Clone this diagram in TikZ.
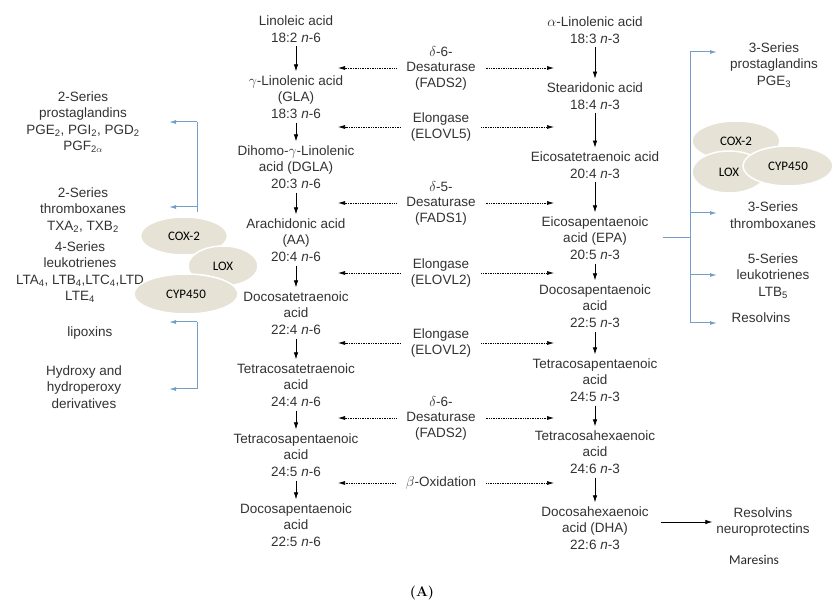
\documentclass[tikz,border=0pt]{standalone}
\usepackage{fontspec}
\setsansfont{Liberation Sans}
\newfontfamily\calib{Carlito}
\usetikzlibrary{positioning,shapes.geometric,arrows.meta}
\definecolor{txtgrey}{RGB}{50,50,50}
\definecolor{pathblue}{RGB}{115,158,200}
\definecolor{enzbeige}{RGB}{230,227,214}

\begin{document}
\begin{tikzpicture}[x=1pt,y=-1pt,on grid,
  acid/.style={align=center,font=\sffamily\fontsize{13.5}{16.5}\selectfont,text=txtgrey,inner sep=2pt},
  enzyme/.style={align=center,font=\sffamily\fontsize{13.5}{15.5}\selectfont,text=txtgrey,inner sep=2pt},
  product/.style={acid},
  blob/.style={ellipse,fill=enzbeige,draw=white,line width=1.5pt,inner sep=0pt,font=\calib\fontsize{13}{15}\selectfont},
  convert/.style={-{Latex[length=7pt,width=4.5pt]},line width=0.7pt,shorten <=2pt,shorten >=2pt},
  dotflow/.style={-{Latex[length=7pt,width=4pt]},densely dotted,line width=0.7pt},
  branch/.style={pathblue,line width=1pt},
  branchtip/.style={branch,-{Latex[length=7pt,width=4pt]}}]

\useasboundingbox (0,0) rectangle (833,601);

% omega-6 series
\node[acid] (la) at (296,29) {Linoleic acid\\18:2 \textit{n}-6};
\node[acid] (gla) [below=68pt of la] {$\gamma$-Linolenic acid\\(GLA)\\18:3 \textit{n}-6};
\node[acid] (dgla) [below=70pt of gla] {Dihomo-$\gamma$-Linolenic\\acid (DGLA)\\20:3 \textit{n}-6};
\node[acid] (aa) [below=73pt of dgla] {Arachidonic acid\\(AA)\\20:4 \textit{n}-6};
\node[acid] (dta) [below=73pt of aa] {Docosatetraenoic\\acid\\22:4 \textit{n}-6};
\node[acid] (tta) [below=72pt of dta] {Tetracosatetraenoic\\acid\\24:4 \textit{n}-6};
\node[acid] (tpa6) [below=70pt of tta] {Tetracosapentaenoic\\acid\\24:5 \textit{n}-6};
\node[acid] (dpa6) [below=70pt of tpa6] {Docosapentaenoic\\acid\\22:5 \textit{n}-6};

% omega-3 series
\node[acid] (ala) at (595,30) {$\alpha$-Linolenic acid\\18:3 \textit{n}-3};
\node[acid] (sda) [below=66pt of ala] {Stearidonic acid\\18:4 \textit{n}-3};
\node[acid] (eta) [below=69pt of sda] {Eicosatetraenoic acid\\20:4 \textit{n}-3};
\node[acid] (epa) [below=73pt of eta] {Eicosapentaenoic\\acid (EPA)\\20:5 \textit{n}-3};
\node[acid] (dpa3) [below=68pt of epa] {Docosapentaenoic\\acid\\22:5 \textit{n}-3};
\node[acid] (tpa3) [below=74pt of dpa3] {Tetracosapentaenoic\\acid\\24:5 \textit{n}-3};
\node[acid] (tha) [below=72pt of tpa3] {Tetracosahexaenoic\\acid\\24:6 \textit{n}-3};
\node[acid] (dha) [below=76pt of tha] {Docosahexaenoic\\acid (DHA)\\22:6 \textit{n}-3};

\foreach \a/\b in {la/gla,gla/dgla,dgla/aa,aa/dta,dta/tta,tta/tpa6,tpa6/dpa6,
                   ala/sda,sda/eta,eta/epa,epa/dpa3,dpa3/tpa3,tpa3/tha,tha/dha}
  \draw[convert] (\a) -- (\b);

% enzymes
\node[enzyme] (fads2a) at (441,68) {$\delta$-6-\\Desaturase\\(FADS2)};
\node[enzyme] (elovl5) at (441,127) {Elongase\\(ELOVL5)};
\node[enzyme] (fads1) at (441,203) {$\delta$-5-\\Desaturase\\(FADS1)};
\node[enzyme] (elovl2a) at (441,273) {Elongase\\(ELOVL2)};
\node[enzyme] (elovl2b) at (441,343) {Elongase\\(ELOVL2)};
\node[enzyme] (fads2b) at (441,418) {$\delta$-6-\\Desaturase\\(FADS2)};
\node[enzyme] (betaox) at (441,483) {$\beta$-Oxidation};

\coordinate (lefttip) at (338,0);
\coordinate (righttip) at (554,0);
\foreach \e in {fads2a,elovl5,fads1,elovl2a,elovl2b,fads2b,betaox} {
  \draw[dotflow] ([xshift=-8pt]\e.west) -- (\e.west -| lefttip);
  \draw[dotflow] ([xshift=8pt]\e.east) -- (\e.east -| righttip);
}

% products of AA
\node[product] (pg2) at (83,122) {2-Series\\prostaglandins\\PGE\textsubscript{2}, PGI\textsubscript{2}, PGD\textsubscript{2}\\PGF\textsubscript{2$\alpha$}};
\node[product] (tx2) at (83,210) {2-Series\\thromboxanes\\TXA\textsubscript{2}, TXB\textsubscript{2}};
\node[product] (lt4) at (80,272) {4-Series\\leukotrienes\\LTA\textsubscript{4}, LTB\textsubscript{4},LTC\textsubscript{4},LTD\\LTE\textsubscript{4}};
\node[product] (lipox) at (90,333) {lipoxins};
\node[product] (hydro) at (84,387) {Hydroxy and\\hydroperoxy\\derivatives};

\coordinate (lb1) at (197,122);
\coordinate (lb2) at (197,207);
\coordinate (lb2e) at (197,212);
\coordinate (lb3) at (197,322);
\coordinate (lb4) at (197,389);
\coordinate (lefttipb) at (169,0);
\draw[branch] (lb1) -- (lb2e);
\draw[branch] (lb3) -- (lb4);
\foreach \c in {lb1,lb2,lb3,lb4}
  \draw[branchtip] (\c) -- (\c -| lefttipb);

% products of EPA
\node[product] (pg3) at (774,65) {3-Series\\prostaglandins\\PGE\textsubscript{3}};
\node[product] (tx3) at (773,215) {3-Series\\thromboxanes};
\node[product] (lt5) at (773,276) {5-Series\\leukotrienes\\LTB\textsubscript{5}};
\node[product] (resolv) at (761,318) {Resolvins};

\coordinate (rb1) at (690,52);
\coordinate (rb2) at (690,213);
\coordinate (rb3) at (690,275);
\coordinate (rb4) at (690,323);
\coordinate (righttipb) at (717,0);
\draw[branch] (rb1) -- (rb4);
\draw[branch] ([xshift=13pt]epa.east) -- (epa.east -| rb1);
\foreach \c in {rb1,rb2,rb3,rb4}
  \draw[branchtip] (\c) -- (\c -| righttipb);

% enzyme blobs
\node[blob,minimum width=87pt,minimum height=38pt] (coxL) at (184,236) {COX-2};
\node[blob,minimum width=70pt,minimum height=40pt] (loxL) at (223,266) {LOX};
\node[blob,minimum width=104pt,minimum height=40pt] (cypL) at (186,294) {CYP450};
\node[blob,minimum width=88pt,minimum height=40pt] (coxR) at (736,141) {COX-2};
\node[blob,minimum width=74pt,minimum height=42pt] (loxR) at (729,172) {LOX};
\node[blob,minimum width=90pt,minimum height=40pt] (cypR) at (788,166) {CYP450};

% products of DHA
\node[product] (resneu) at (763,522) {Resolvins\\neuroprotectins};
\node[font=\calib\fontsize{13.5}{16}\selectfont,text=black!85] (mares) at (754,560) {Maresins};
\draw[convert,shorten <=10pt] (dha.east |- resneu.west) -- (resneu.west);

\node[font=\rmfamily\bfseries\fontsize{14}{16}\selectfont] (panel) at (422,593) {(A)};
\end{tikzpicture}
\end{document}
